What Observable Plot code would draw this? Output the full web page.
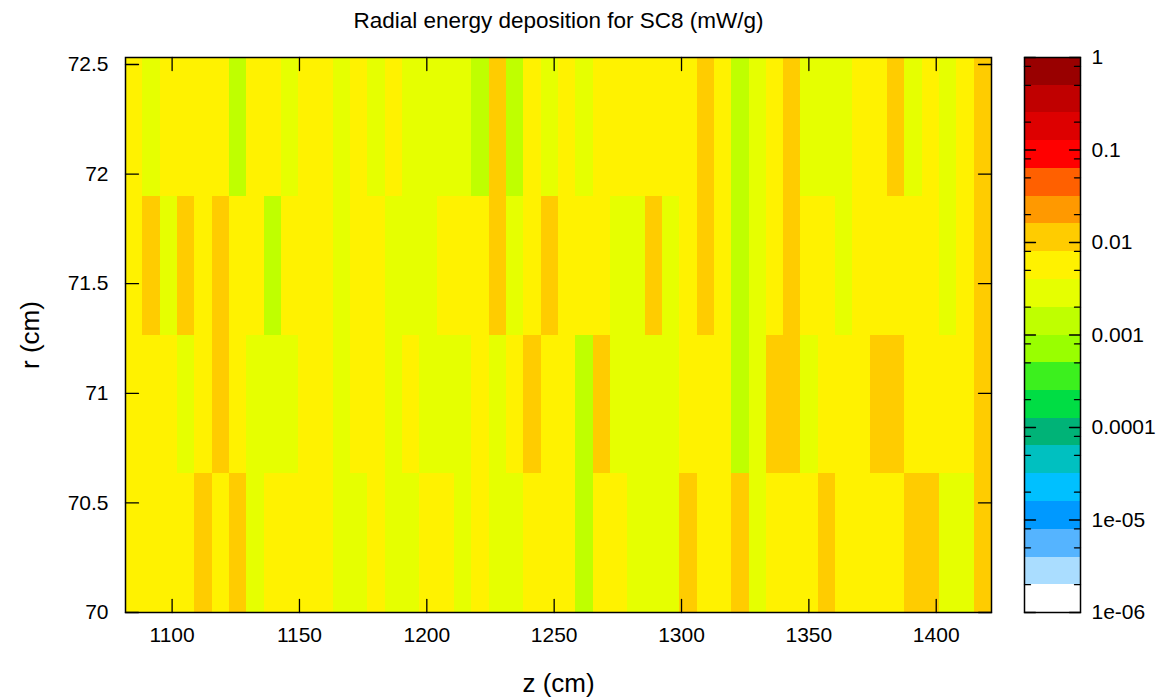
<!DOCTYPE html>
<html><head><meta charset="utf-8">
<script src="https://cdn.jsdelivr.net/npm/d3@7"></script>
<script src="https://cdn.jsdelivr.net/npm/@observablehq/plot@0.6"></script>
<style>
body{margin:0;background:#fff;}
#wrap{position:relative;width:1176px;height:698px;}
#wrap svg{position:absolute;top:0;}
</style></head><body><div id="wrap"></div>
<script>
const titleText = "Radial energy deposition for SC8 (mW/g)";
const xLabel = "z (cm)";
const yLabel = "r (cm)";
// z bin edges (cm)
const zEdges = [1081.7,1088.5,1095.3,1102.1,1108.9,1115.7,1122.5,1129.3,1136.1,1142.9,
  1149.7,1156.5,1163.3,1170.1,1176.9,1183.7,1190.5,1197.3,1204.1,1210.9,
  1217.7,1224.5,1231.3,1238.1,1244.9,1251.7,1258.5,1265.3,1272.1,1278.9,
  1285.7,1292.5,1299.3,1306.1,1312.9,1319.7,1326.5,1333.3,1340.1,1346.9,
  1353.7,1360.5,1367.3,1374.1,1380.9,1387.7,1394.5,1401.3,1408.1,1414.9,1421.7];
// r bin edges (cm)
const rEdges = [70, 70.633, 71.266, 71.899, 72.532];
// energy deposition (mW/g), one array per r bin, bottom to top
const row0 = [0.0061,0.0057,0.0059,0.0054,0.0098,0.0056,0.0104,0.0033,0.0052,0.0058,
  0.0060,0.0055,0.0031,0.0029,0.0049,0.0032,0.0030,0.0047,0.0051,0.0034,
  0.0055,0.0030,0.0028,0.0050,0.0053,0.0048,0.0016,0.0046,0.0044,0.0033,
  0.0031,0.0035,0.0097,0.0056,0.0052,0.0093,0.0032,0.0058,0.0062,0.0055,
  0.0101,0.0057,0.0061,0.0054,0.0059,0.0108,0.0112,0.0034,0.0031,0.0118];
const row1 = [0.0050,0.0048,0.0045,0.0033,0.0052,0.0096,0.0047,0.0030,0.0032,0.0029,
  0.0044,0.0049,0.0034,0.0051,0.0046,0.0030,0.0042,0.0031,0.0029,0.0033,
  0.0049,0.0035,0.0053,0.0089,0.0047,0.0045,0.0017,0.0091,0.0034,0.0031,
  0.0036,0.0032,0.0050,0.0054,0.0048,0.0016,0.0030,0.0099,0.0106,0.0035,
  0.0057,0.0053,0.0049,0.0095,0.0102,0.0055,0.0051,0.0046,0.0052,0.0114];
const row2 = [0.0053,0.0092,0.0035,0.0088,0.0048,0.0094,0.0051,0.0047,0.0017,0.0045,
  0.0050,0.0046,0.0033,0.0049,0.0052,0.0031,0.0036,0.0034,0.0044,0.0048,
  0.0046,0.0107,0.0032,0.0050,0.0090,0.0053,0.0047,0.0051,0.0030,0.0033,
  0.0087,0.0034,0.0056,0.0103,0.0054,0.0015,0.0029,0.0058,0.0110,0.0049,
  0.0052,0.0032,0.0055,0.0057,0.0060,0.0050,0.0053,0.0031,0.0056,0.0116];
const row3 = [0.0047,0.0030,0.0050,0.0045,0.0049,0.0052,0.0016,0.0046,0.0044,0.0034,
  0.0048,0.0043,0.0032,0.0045,0.0035,0.0042,0.0033,0.0030,0.0028,0.0031,
  0.0017,0.0099,0.0018,0.0050,0.0033,0.0047,0.0036,0.0052,0.0055,0.0058,
  0.0054,0.0051,0.0049,0.0093,0.0056,0.0015,0.0029,0.0053,0.0105,0.0036,
  0.0034,0.0032,0.0057,0.0060,0.0098,0.0033,0.0055,0.0030,0.0058,0.0119];
const rows = [row0, row1, row2, row3];

const xTicks = [1100,1150,1200,1250,1300,1350,1400];
const yTicks = [70,70.5,71,71.5,72,72.5];
const cbTicks = [1,0.1,0.01,0.001,0.0001,1e-5,1e-6];
const cbLabels = ["1","0.1","0.01","0.001","0.0001","1e-05","1e-06"];
const cbMinor = [0.8,0.5,0.2,0.08,0.05,0.02,0.008,0.005,0.002,0.0008,0.0005,0.0002,
  8e-5,5e-5,2e-5,8e-6,5e-6,2e-6];
// palette bands (0.3 decade each) from 1e-6 to 1
const bandEdges = [1e-6,1.995e-6,3.981e-6,7.943e-6,1.585e-5,3.162e-5,6.310e-5,1.259e-4,2.512e-4,5.012e-4,
  1e-3,1.995e-3,3.981e-3,7.943e-3,1.585e-2,3.162e-2,6.310e-2,0.1259,0.2512,0.5012,1];
const palette = ["#ffffff","#aaddff","#55b4ff","#0099ff","#00c0ff","#00c0c0","#00b377","#00dd44","#3cf01e","#99ff00",
  "#bfff00","#e6ff00","#fff200","#ffcc00","#ff9900","#ff6000","#ff0000","#dd0000","#c00000","#990000"];

const cells = [];
rows.forEach((row, j) => row.forEach((v, i) => cells.push({
  z1: zEdges[i], z2: zEdges[i + 1], r1: rEdges[j], r2: rEdges[j + 1], v
})));
const bands = palette.map((c, k) => ({lo: bandEdges[k], hi: bandEdges[k + 1], mid: Math.sqrt(bandEdges[k] * bandEdges[k + 1])}));

const colorScale = {type: "threshold", domain: bandEdges.slice(1, 20), range: palette};
const tickShape = {draw(ctx, l) { ctx.moveTo(0, 0); ctx.lineTo(0, -l); }};
const font = "'Liberation Sans', Arial, sans-serif";
const TL = 13;
const tickFont = 21;

const main = Plot.plot({
  width: 1000, height: 698,
  marginLeft: 125, marginRight: 9, marginTop: 57, marginBottom: 86,
  style: {fontFamily: font, fontSize: tickFont + "px", background: "white", overflow: "visible"},
  x: {domain: [zEdges[0], zEdges[zEdges.length - 1]], label: null},
  y: {domain: [rEdges[0], rEdges[rEdges.length - 1]], label: null},
  color: colorScale,
  marks: [
    Plot.rect(cells, {x1: "z1", x2: "z2", y1: "r1", y2: "r2", fill: "v", shapeRendering: "crispEdges"}),
    Plot.vector(xTicks, {x: d => d, frameAnchor: "bottom", rotate: 0, length: TL, anchor: "start", shape: tickShape, stroke: "black", strokeWidth: 1.3}),
    Plot.vector(xTicks, {x: d => d, frameAnchor: "top", rotate: 180, length: TL, anchor: "start", shape: tickShape, stroke: "black", strokeWidth: 1.3}),
    Plot.vector(yTicks, {y: d => d, frameAnchor: "left", rotate: 90, length: TL, anchor: "start", shape: tickShape, stroke: "black", strokeWidth: 1.3}),
    Plot.vector(yTicks, {y: d => d, frameAnchor: "right", rotate: -90, length: TL, anchor: "start", shape: tickShape, stroke: "black", strokeWidth: 1.3}),
    Plot.frame({stroke: "black", strokeWidth: 1.5}),
    Plot.axisX(xTicks, {anchor: "bottom", tickSize: 0, tickPadding: 15, tickFormat: d => String(d), label: null, fill: "black"}),
    Plot.axisY(yTicks, {anchor: "left", tickSize: 0, tickPadding: 17, tickFormat: d => String(d), label: null, fill: "black"}),
    Plot.text([titleText], {frameAnchor: "top", lineAnchor: "middle", dy: -37, fontSize: 22.5, fill: "black"}),
    Plot.text([xLabel], {frameAnchor: "bottom", lineAnchor: "middle", dy: 71, fontSize: 26, fill: "black"}),
    Plot.text([yLabel], {frameAnchor: "left", textAnchor: "middle", lineAnchor: "middle", dx: -95, rotate: -90, fontSize: 26, fill: "black"})
  ]
});
main.style.left = "0px";

const cb = Plot.plot({
  width: 176, height: 698,
  marginLeft: 24, marginRight: 96, marginTop: 57, marginBottom: 86,
  style: {fontFamily: font, fontSize: tickFont + "px", background: "transparent", overflow: "visible"},
  x: {domain: [0, 1], axis: null},
  y: {type: "log", domain: [1e-6, 1], axis: null},
  color: colorScale,
  marks: [
    Plot.rect(bands, {x1: () => 0, x2: () => 1, y1: "lo", y2: "hi", fill: "mid", shapeRendering: "crispEdges"}),
    Plot.vector(cbTicks, {y: d => d, frameAnchor: "left", rotate: 90, length: 11, anchor: "start", shape: tickShape, stroke: "black", strokeWidth: 1.3}),
    Plot.vector(cbTicks, {y: d => d, frameAnchor: "right", rotate: -90, length: 11, anchor: "start", shape: tickShape, stroke: "black", strokeWidth: 1.3}),
    Plot.vector(cbMinor, {y: d => d, frameAnchor: "left", rotate: 90, length: 6, anchor: "start", shape: tickShape, stroke: "black", strokeWidth: 1.3}),
    Plot.vector(cbMinor, {y: d => d, frameAnchor: "right", rotate: -90, length: 6, anchor: "start", shape: tickShape, stroke: "black", strokeWidth: 1.3}),
    Plot.frame({stroke: "black", strokeWidth: 1.5}),
    Plot.text(cbTicks, {y: d => d, x: () => 1, text: (d, i) => cbLabels[i], textAnchor: "start", dx: 11, fill: "black"})
  ]
});
cb.style.left = "1000px";

const wrap = document.getElementById("wrap");
wrap.appendChild(main);
wrap.appendChild(cb);
</script></body></html>
